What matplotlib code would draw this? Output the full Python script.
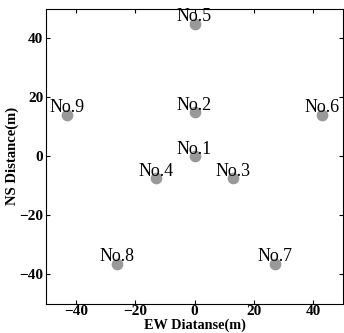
import matplotlib.pyplot as plt

# Station positions
names = ['No.1', 'No.2', 'No.3', 'No.4', 'No.5', 'No.6', 'No.7', 'No.8', 'No.9']
ew = [0, 0, 13, -13, 0, 43, 27, -26, -43]
ns = [0, 15, -7.5, -7.5, 45, 14, -36.5, -36.5, 14]
ticks = [-40, -20, 0, 20, 40]

plt.rcParams['font.family'] = ['Liberation Serif', 'DejaVu Serif']

fig = plt.figure(figsize=(3.44, 3.33), dpi=100)
ax = fig.add_axes([0.134, 0.088, 0.863, 0.885])

ax.scatter(ew, ns, s=55, color='#999999', zorder=3)
for name, x, y in zip(names, ew, ns):
    ax.annotate(name, (x, y), xytext=(0, -1), textcoords='offset points',
                ha='center', va='bottom', fontsize=13)

ax.set_xlim(-50, 50)
ax.set_ylim(-50, 50)
ax.set_xticks(ticks)
ax.set_yticks(ticks)
ax.tick_params(direction='in', length=3, width=0.8, top=True, right=True,
               labelsize=11, pad=2)
ax.tick_params(axis='x', pad=1)
for lab in ax.get_xticklabels() + ax.get_yticklabels():
    lab.set_fontweight('bold')

ax.set_xlabel('EW Diatanse(m)', fontsize=10.3, fontweight='bold', labelpad=0)
ax.set_ylabel('NS Distance(m)', fontsize=10.5, fontweight='bold', labelpad=0)

fig.savefig('out.png', dpi=100)
